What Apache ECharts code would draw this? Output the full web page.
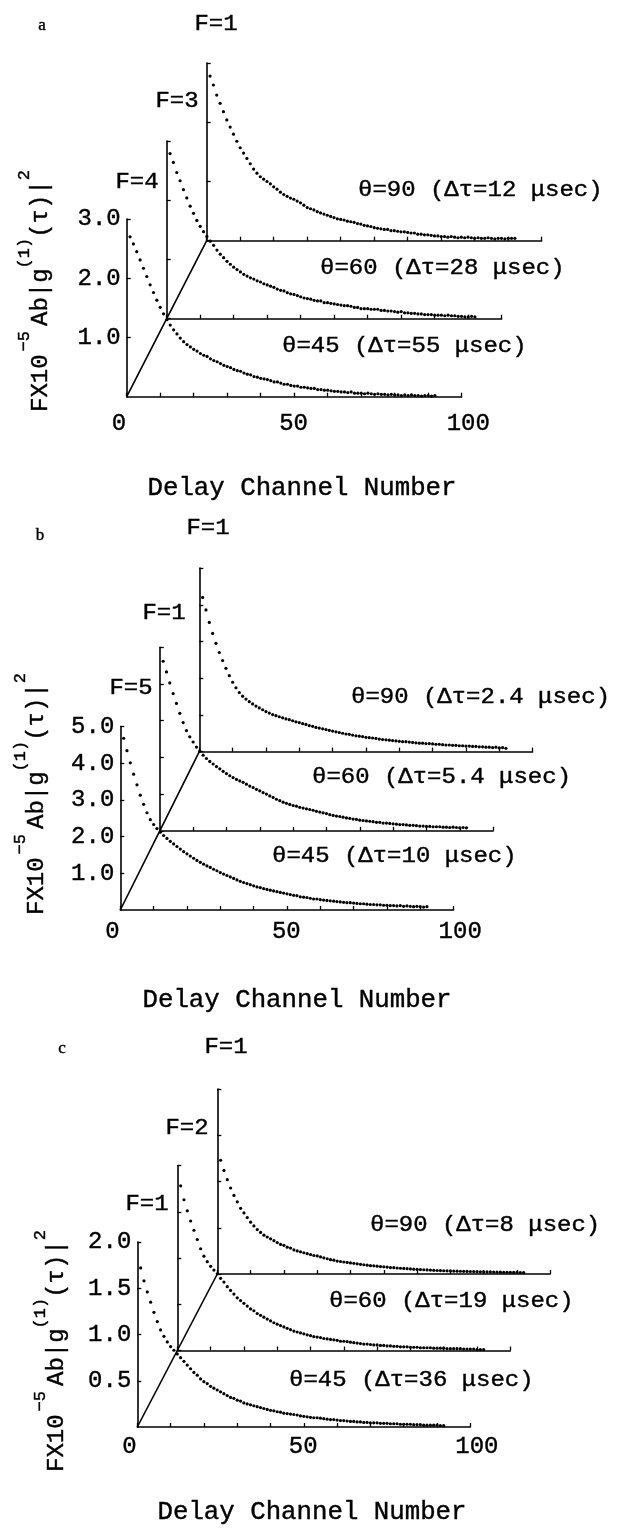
<!DOCTYPE html>
<html><head><meta charset="utf-8">
<script src="https://cdn.jsdelivr.net/npm/echarts@6/dist/echarts.min.js"></script>
<style>html,body{margin:0;padding:0;background:#fff}#c{width:628px;height:1534px}</style>
</head><body><div id="c"></div>
<script>
// ---------------- DATA ----------------
const channelStart = 1;      // first delay channel plotted
const channelMax = 100;
const xTickStep = 10;
const xLabelStep = 50;

// panel a
const a45 = [2.70,2.58,2.45,2.31,2.17,2.03,1.89,1.76,1.63,1.51,
 1.40,1.30,1.21,1.13,1.06,0.99,0.93,0.88,0.84,0.80,
 0.77,0.73,0.70,0.68,0.64,0.61,0.59,0.56,0.53,0.51,
 0.49,0.46,0.44,0.43,0.40,0.38,0.37,0.34,0.33,0.31,
 0.30,0.29,0.27,0.25,0.25,0.23,0.21,0.21,0.19,0.18,
 0.18,0.16,0.16,0.15,0.14,0.14,0.12,0.12,0.11,0.11,
 0.10,0.09,0.09,0.08,0.08,0.07,0.08,0.06,0.06,0.06,
 0.05,0.06,0.05,0.04,0.05,0.04,0.04,0.03,0.04,0.03,
 0.03,0.02,0.03,0.02,0.03,0.02,0.02,0.01,0.02,0.02,
 0.01,0.02];
const a60 = [2.79,2.64,2.47,2.33,2.18,2.04,1.90,1.78,1.66,1.56,
 1.47,1.39,1.31,1.24,1.16,1.09,1.03,0.97,0.92,0.87,
 0.83,0.79,0.75,0.72,0.69,0.67,0.64,0.62,0.59,0.57,
 0.55,0.53,0.50,0.48,0.47,0.44,0.42,0.41,0.39,0.37,
 0.35,0.34,0.33,0.31,0.30,0.30,0.27,0.27,0.26,0.25,
 0.24,0.23,0.22,0.22,0.21,0.19,0.19,0.17,0.17,0.17,
 0.16,0.16,0.16,0.14,0.14,0.13,0.13,0.12,0.11,0.12,
 0.10,0.10,0.09,0.09,0.08,0.08,0.07,0.07,0.07,0.06,
 0.06,0.06,0.05,0.06,0.05,0.05,0.04,0.04,0.03,0.03,
 0.04,0.03];
const a90 = [2.78,2.63,2.46,2.32,2.18,2.04,1.92,1.80,1.68,1.57,
 1.48,1.39,1.30,1.21,1.14,1.08,1.04,1.00,0.96,0.91,
 0.87,0.82,0.78,0.75,0.72,0.70,0.67,0.64,0.60,0.56,
 0.54,0.52,0.49,0.47,0.45,0.43,0.41,0.39,0.37,0.36,
 0.35,0.33,0.32,0.31,0.29,0.28,0.26,0.25,0.24,0.22,
 0.21,0.20,0.19,0.19,0.17,0.17,0.16,0.15,0.15,0.14,
 0.13,0.13,0.11,0.11,0.10,0.10,0.09,0.08,0.08,0.07,
 0.07,0.06,0.07,0.06,0.05,0.06,0.05,0.06,0.05,0.04,
 0.05,0.04,0.04,0.05,0.04,0.03,0.04,0.04,0.03,0.04,
 0.04,0.04];
// panel b
const b45 = [4.68,4.34,4.01,3.70,3.41,3.13,2.88,2.65,2.46,2.33,
 2.22,2.12,2.03,1.95,1.87,1.80,1.73,1.66,1.59,1.53,
 1.47,1.41,1.35,1.30,1.25,1.20,1.16,1.11,1.07,1.02,
 0.98,0.94,0.90,0.86,0.82,0.78,0.75,0.72,0.69,0.66,
 0.63,0.61,0.58,0.56,0.54,0.52,0.50,0.48,0.46,0.44,
 0.42,0.40,0.39,0.36,0.35,0.34,0.32,0.30,0.30,0.28,
 0.27,0.26,0.25,0.24,0.23,0.22,0.21,0.20,0.20,0.19,
 0.18,0.17,0.17,0.16,0.15,0.15,0.14,0.14,0.13,0.13,
 0.12,0.12,0.11,0.12,0.10,0.11,0.10,0.09,0.10,0.09,
 0.08,0.09];
const b60 = [4.62,4.33,4.03,3.74,3.47,3.20,2.95,2.73,2.56,2.42,
 2.28,2.17,2.06,1.97,1.89,1.82,1.75,1.69,1.62,1.56,
 1.50,1.45,1.40,1.36,1.32,1.27,1.22,1.18,1.13,1.09,
 1.04,1.00,0.95,0.91,0.86,0.82,0.78,0.75,0.72,0.69,
 0.67,0.64,0.62,0.60,0.58,0.56,0.53,0.51,0.49,0.47,
 0.44,0.42,0.40,0.39,0.37,0.35,0.34,0.32,0.31,0.29,
 0.28,0.27,0.26,0.25,0.23,0.23,0.21,0.21,0.20,0.19,
 0.18,0.17,0.17,0.16,0.15,0.15,0.14,0.13,0.13,0.12,
 0.12,0.11,0.11,0.11,0.10,0.10,0.09,0.10,0.09,0.08,
 0.09,0.08];
const b90 = [4.20,3.86,3.52,3.22,2.95,2.70,2.48,2.27,2.07,1.89,
 1.74,1.61,1.51,1.43,1.36,1.30,1.24,1.19,1.14,1.09,
 1.05,1.01,0.98,0.95,0.92,0.89,0.87,0.84,0.81,0.79,
 0.76,0.74,0.71,0.69,0.66,0.64,0.62,0.60,0.58,0.56,
 0.54,0.52,0.50,0.48,0.47,0.45,0.43,0.42,0.41,0.39,
 0.38,0.37,0.36,0.34,0.33,0.32,0.31,0.30,0.29,0.28,
 0.27,0.27,0.26,0.25,0.24,0.23,0.23,0.22,0.22,0.21,
 0.20,0.20,0.19,0.18,0.18,0.17,0.17,0.16,0.16,0.15,
 0.15,0.14,0.14,0.13,0.13,0.12,0.12,0.11,0.12,0.10,
 0.11,0.09];
// panel c
const c45 = [1.72,1.58,1.46,1.35,1.24,1.14,1.05,0.98,0.92,0.87,
 0.83,0.79,0.75,0.71,0.67,0.63,0.59,0.56,0.52,0.49,
 0.47,0.44,0.42,0.40,0.38,0.36,0.34,0.32,0.31,0.29,
 0.28,0.26,0.25,0.24,0.23,0.22,0.21,0.20,0.19,0.18,
 0.175,0.165,0.16,0.15,0.145,0.14,0.135,0.13,0.12,0.115,
 0.11,0.105,0.10,0.10,0.095,0.09,0.085,0.08,0.08,0.075,
 0.07,0.07,0.065,0.06,0.06,0.055,0.055,0.05,0.05,0.045,
 0.045,0.045,0.04,0.04,0.04,0.035,0.035,0.035,0.03,0.03,
 0.03,0.03,0.025,0.025,0.025,0.02,0.02,0.02,0.02,0.02,
 0.015,0.015];
const c60 = [1.78,1.63,1.51,1.40,1.30,1.20,1.10,1.02,0.96,0.91,
 0.87,0.83,0.78,0.74,0.69,0.65,0.61,0.57,0.54,0.51,
 0.48,0.45,0.43,0.40,0.38,0.36,0.34,0.32,0.30,0.285,
 0.27,0.255,0.24,0.225,0.21,0.20,0.19,0.18,0.17,0.16,
 0.15,0.145,0.14,0.13,0.125,0.12,0.115,0.11,0.10,0.10,
 0.095,0.09,0.085,0.08,0.075,0.07,0.07,0.065,0.06,0.06,
 0.055,0.055,0.05,0.05,0.045,0.045,0.04,0.04,0.04,0.035,
 0.035,0.035,0.03,0.03,0.03,0.03,0.025,0.025,0.025,0.025,
 0.02,0.02,0.02,0.02,0.02,0.015,0.015,0.015,0.015,0.01,
 0.01,0.01];
const c90 = [1.23,1.12,1.02,0.93,0.85,0.78,0.71,0.66,0.61,0.56,
 0.52,0.48,0.45,0.42,0.40,0.38,0.36,0.34,0.32,0.31,
 0.29,0.28,0.26,0.25,0.24,0.23,0.22,0.21,0.20,0.195,
 0.185,0.175,0.165,0.155,0.15,0.14,0.135,0.13,0.125,0.12,
 0.115,0.11,0.105,0.10,0.095,0.09,0.088,0.085,0.08,0.078,
 0.075,0.07,0.068,0.065,0.062,0.06,0.058,0.055,0.052,0.05,
 0.048,0.046,0.044,0.042,0.04,0.038,0.037,0.035,0.034,0.033,
 0.032,0.031,0.03,0.029,0.028,0.027,0.026,0.025,0.024,0.023,
 0.022,0.022,0.021,0.02,0.02,0.019,0.018,0.018,0.017,0.017,
 0.016,0.016];

const panelLetters = ['a', 'b', 'c'];
const yMax = [3, 5, 2];
const yStep = [1, 1, 0.5];
// order per panel: front (θ=45), middle (θ=60), back (θ=90)
const thetaLabels = [
  ['θ=45 (Δτ=55 μsec)', 'θ=60 (Δτ=28 μsec)', 'θ=90 (Δτ=12 μsec)'],
  ['θ=45 (Δτ=10 μsec)', 'θ=60 (Δτ=5.4 μsec)', 'θ=90 (Δτ=2.4 μsec)'],
  ['θ=45 (Δτ=36 μsec)', 'θ=60 (Δτ=19 μsec)', 'θ=90 (Δτ=8 μsec)']
];
const fLabels = [['F=4', 'F=3', 'F=1'], ['F=5', 'F=1', 'F=1'], ['F=1', 'F=2', 'F=1']];
const xTitle = 'Delay Channel Number';
// y title pieces: [text, superscript?]
const yTitleParts = [['FX10', false], ['−5', true], ['Ab|g', false], ['(1)', true], ['(τ)|', false], ['2', true]];
const curves = [[a45, a60, a90], [b45, b60, b90], [c45, c60, c90]];

// ---------------- LAYOUT ----------------
const L = [
  {x0:126.7, y0:396.7, pxC:3.35, pxU:59.2, dx:40, dy:78, xm:15,
   letter:[42,26], f:[[137,182],[177,101],[216,24]], th:[[282,346],[320,268],[358,190]],
   title:[302,488], ylab:[41,291]},
  {x0:120.3, y0:910, pxC:3.333, pxU:36.7, dx:39.5, dy:79.2, xm:10,
   letter:[40,536], f:[[131,688],[164,613],[208,528]], th:[[272,856],[312,777],[351,697]],
   title:[297,1000], ylab:[37,794]},
  {x0:137.3, y0:1427, pxC:3.33, pxU:92.5, dx:40, dy:76.5, xm:8,
   letter:[62,1049], f:[[147,1204],[187,1128],[226,1047]], th:[[289,1380],[329,1301],[370,1225]],
   title:[312,1512], ylab:[57,1351]}
];
const FONT = 'Liberation Mono';
const INK = '#000';

const chart = echarts.init(document.getElementById('c'), null, {renderer:'canvas', width:628, height:1534});
const grids = [], xAxes = [], yAxes = [], series = [];
const lineStyle = {color: INK, width: 1.6};
const labelInk = {color: INK, textBorderColor: INK, textBorderWidth: 0.4};

L.forEach((P, p) => {
  for (let k = 0; k < 3; k++) {
    const gi = grids.length;
    const ox = P.x0 + k * P.dx, oy = P.y0 - k * P.dy;
    const h = yMax[p] * P.pxU, w = channelMax * P.pxC;
    grids.push({left: ox, top: oy - h, width: w, height: h});
    xAxes.push({gridIndex: gi, type: 'value', min: 0, max: channelMax, interval: xTickStep,
      axisLine: {show: true, onZero: false, lineStyle},
      axisTick: {show: true, inside: true, length: 4, lineStyle: {color: INK, width: 1.3}},
      axisLabel: {show: false}, splitLine: {show: false}});
    yAxes.push({gridIndex: gi, type: 'value', min: 0, max: yMax[p], interval: yStep[p],
      axisLine: {show: true, onZero: false, lineStyle},
      axisTick: {show: true, inside: true, length: 4, lineStyle: {color: INK, width: 1.3}},
      axisLabel: Object.assign({show: k === 0, showMinLabel: false, margin: 6, formatter: v => v.toFixed(1),
        fontFamily: FONT, fontSize: 24}, labelInk),
      splitLine: {show: false}});
    series.push({type: 'scatter', xAxisIndex: gi, yAxisIndex: gi,
      data: curves[p][k].map((v, i) => [i + channelStart, v]),
      symbol: 'circle', symbolSize: 3.2, itemStyle: {color: INK, opacity: 1},
      silent: true, animation: false, z: 3});
  }
  // label-only axis for the channel numbers (left-aligned labels)
  const gi = grids.length;
  grids.push({left: P.x0 - 15, top: P.y0 - 1, width: channelMax * P.pxC, height: 1});
  xAxes.push({gridIndex: gi, type: 'value', min: 0, max: channelMax, interval: xLabelStep,
    axisLine: {show: false}, axisTick: {show: false}, splitLine: {show: false},
    axisLabel: Object.assign({align: 'left', margin: P.xm, fontFamily: FONT, fontSize: 24}, labelInk)});
  yAxes.push({gridIndex: gi, type: 'value', show: false});
});

chart.setOption({animation: false, backgroundColor: '#fff', grid: grids, xAxis: xAxes, yAxis: yAxes, series});

const graphic = [];
function txt(id, text, x, y, align, font, size, sx) {
  graphic.push({type: 'text', id, x, y, scaleX: sx || 1, silent: true,
    style: {text, fill: INK, stroke: INK, lineWidth: 0.4, font: size + 'px "' + font + '"', align, verticalAlign: 'middle'}});
}
const MAIN = 24, SUP = 17, SUPOFF = 17;
L.forEach((P, p) => {
  txt('let' + p, panelLetters[p], P.letter[0], P.letter[1], 'center', 'Liberation Serif', 17, 1);
  for (let k = 0; k < 3; k++) {
    txt('f' + p + k, fLabels[p][k], P.f[k][0], P.f[k][1], 'center', FONT, 22, 1.09);
    txt('t' + p + k, thetaLabels[p][k], P.th[k][0], P.th[k][1], 'left', FONT, 22, 1.09);
  }
  txt('ti' + p, xTitle, P.title[0], P.title[1], 'center', FONT, 25, 1.03);
  // rotated y title built from pieces with raised superscripts
  const gaps = [0, 3, 5, 0, 0, 0];
  const widths = yTitleParts.map(([t, s]) => t.length * 0.6 * (s ? SUP : MAIN));
  const total = widths.reduce((a, b) => a + b, 0) + gaps.reduce((a, b) => a + b, 0);
  let cx = -total / 2;
  const children = yTitleParts.map(([t, s], i) => {
    cx += gaps[i];
    const el = {type: 'text', x: cx, y: s ? -SUPOFF : 0, silent: true,
      style: {text: t, fill: INK, stroke: INK, lineWidth: 0.4, font: (s ? SUP : MAIN) + 'px "' + FONT + '"',
        align: 'left', verticalAlign: 'middle'}};
    cx += widths[i];
    return el;
  });
  graphic.push({type: 'group', id: 'yl' + p, x: P.ylab[0], y: P.ylab[1], rotation: Math.PI / 2, children});
  // diagonal joining the three origins, located through the axes' own scales
  const pts = [0, 1, 2].map(k => chart.convertToPixel({xAxisIndex: p * 4 + k, yAxisIndex: p * 4 + k}, [0, 0]));
  graphic.push({type: 'polyline', id: 'diag' + p, silent: true, z: 2,
    shape: {points: pts}, style: {stroke: INK, lineWidth: 1.6, fill: null}});
});
chart.setOption({graphic});
</script></body></html>
